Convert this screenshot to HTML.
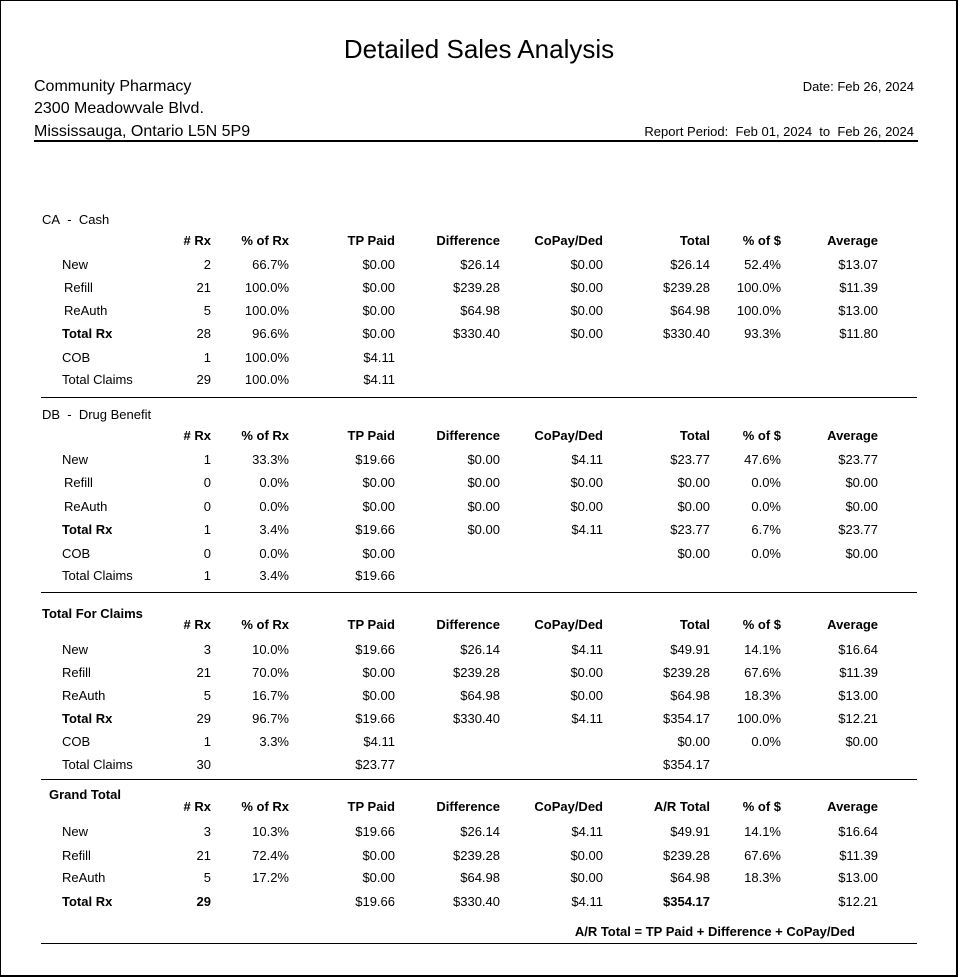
<!DOCTYPE html>
<html><head><meta charset="utf-8"><style>
*{margin:0;padding:0;box-sizing:border-box}
body{width:962px;height:977px;background:#fff;font-family:"Liberation Sans",Arial,sans-serif;color:#000;position:relative;overflow:hidden}
.frame{position:absolute;left:0;top:0;width:958px;height:977px;border:1px solid #000;border-width:1px 2px 2px 1px}
.t{position:absolute;white-space:nowrap;font-size:13px;line-height:16px;margin-top:1px}
.b{font-weight:bold}
.l{position:absolute;left:41px;width:876px;height:1px;background:#000}
.c1{right:751px}.c2{right:673px}.c3{right:567px}.c4{right:462px}.c5{right:359px}.c6{right:252px}.c7{right:181px}.c8{right:84px}
</style></head><body>
<div class="frame"></div>
<div class="t" style="left:0;width:958px;text-align:center;top:32px;font-size:26px;line-height:32px">Detailed Sales Analysis</div>
<div class="t" style="left:34px;top:77px;font-size:16px;line-height:18px">Community Pharmacy</div>
<div class="t" style="left:34px;top:99px;font-size:16px;line-height:18px">2300 Meadowvale Blvd.</div>
<div class="t" style="left:34px;top:122px;font-size:16px;line-height:18px">Mississauga, Ontario L5N 5P9</div>
<div class="t" style="right:48px;top:78px">Date: Feb 26, 2024</div>
<div class="t" style="right:48px;top:123px">Report Period:&nbsp; Feb 01, 2024&nbsp; to&nbsp; Feb 26, 2024</div>
<div style="position:absolute;left:34px;top:140px;width:884px;height:2px;background:#000"></div>

<!-- CA -->
<div class="t" style="left:42px;top:211px">CA&nbsp; -&nbsp; Cash</div>
<div class="t b c1" style="top:232px"># Rx</div><div class="t b c2" style="top:232px">% of Rx</div><div class="t b c3" style="top:232px">TP Paid</div><div class="t b c4" style="top:232px">Difference</div><div class="t b c5" style="top:232px">CoPay/Ded</div><div class="t b c6" style="top:232px">Total</div><div class="t b c7" style="top:232px">% of $</div><div class="t b c8" style="top:232px">Average</div>
<div class="t" style="left:62px;top:256px">New</div><div class="t c1" style="top:256px">2</div><div class="t c2" style="top:256px">66.7%</div><div class="t c3" style="top:256px">$0.00</div><div class="t c4" style="top:256px">$26.14</div><div class="t c5" style="top:256px">$0.00</div><div class="t c6" style="top:256px">$26.14</div><div class="t c7" style="top:256px">52.4%</div><div class="t c8" style="top:256px">$13.07</div>
<div class="t" style="left:64px;top:279px">Refill</div><div class="t c1" style="top:279px">21</div><div class="t c2" style="top:279px">100.0%</div><div class="t c3" style="top:279px">$0.00</div><div class="t c4" style="top:279px">$239.28</div><div class="t c5" style="top:279px">$0.00</div><div class="t c6" style="top:279px">$239.28</div><div class="t c7" style="top:279px">100.0%</div><div class="t c8" style="top:279px">$11.39</div>
<div class="t" style="left:64px;top:302px">ReAuth</div><div class="t c1" style="top:302px">5</div><div class="t c2" style="top:302px">100.0%</div><div class="t c3" style="top:302px">$0.00</div><div class="t c4" style="top:302px">$64.98</div><div class="t c5" style="top:302px">$0.00</div><div class="t c6" style="top:302px">$64.98</div><div class="t c7" style="top:302px">100.0%</div><div class="t c8" style="top:302px">$13.00</div>
<div class="t b" style="left:62px;top:325px">Total Rx</div><div class="t c1" style="top:325px">28</div><div class="t c2" style="top:325px">96.6%</div><div class="t c3" style="top:325px">$0.00</div><div class="t c4" style="top:325px">$330.40</div><div class="t c5" style="top:325px">$0.00</div><div class="t c6" style="top:325px">$330.40</div><div class="t c7" style="top:325px">93.3%</div><div class="t c8" style="top:325px">$11.80</div>
<div class="t" style="left:62px;top:349px">COB</div><div class="t c1" style="top:349px">1</div><div class="t c2" style="top:349px">100.0%</div><div class="t c3" style="top:349px">$4.11</div>
<div class="t" style="left:62px;top:371px">Total Claims</div><div class="t c1" style="top:371px">29</div><div class="t c2" style="top:371px">100.0%</div><div class="t c3" style="top:371px">$4.11</div>
<div class="l" style="top:397px"></div>

<!-- DB -->
<div class="t" style="left:42px;top:406px">DB&nbsp; -&nbsp; Drug Benefit</div>
<div class="t b c1" style="top:427px"># Rx</div><div class="t b c2" style="top:427px">% of Rx</div><div class="t b c3" style="top:427px">TP Paid</div><div class="t b c4" style="top:427px">Difference</div><div class="t b c5" style="top:427px">CoPay/Ded</div><div class="t b c6" style="top:427px">Total</div><div class="t b c7" style="top:427px">% of $</div><div class="t b c8" style="top:427px">Average</div>
<div class="t" style="left:62px;top:451px">New</div><div class="t c1" style="top:451px">1</div><div class="t c2" style="top:451px">33.3%</div><div class="t c3" style="top:451px">$19.66</div><div class="t c4" style="top:451px">$0.00</div><div class="t c5" style="top:451px">$4.11</div><div class="t c6" style="top:451px">$23.77</div><div class="t c7" style="top:451px">47.6%</div><div class="t c8" style="top:451px">$23.77</div>
<div class="t" style="left:64px;top:474px">Refill</div><div class="t c1" style="top:474px">0</div><div class="t c2" style="top:474px">0.0%</div><div class="t c3" style="top:474px">$0.00</div><div class="t c4" style="top:474px">$0.00</div><div class="t c5" style="top:474px">$0.00</div><div class="t c6" style="top:474px">$0.00</div><div class="t c7" style="top:474px">0.0%</div><div class="t c8" style="top:474px">$0.00</div>
<div class="t" style="left:64px;top:498px">ReAuth</div><div class="t c1" style="top:498px">0</div><div class="t c2" style="top:498px">0.0%</div><div class="t c3" style="top:498px">$0.00</div><div class="t c4" style="top:498px">$0.00</div><div class="t c5" style="top:498px">$0.00</div><div class="t c6" style="top:498px">$0.00</div><div class="t c7" style="top:498px">0.0%</div><div class="t c8" style="top:498px">$0.00</div>
<div class="t b" style="left:62px;top:521px">Total Rx</div><div class="t c1" style="top:521px">1</div><div class="t c2" style="top:521px">3.4%</div><div class="t c3" style="top:521px">$19.66</div><div class="t c4" style="top:521px">$0.00</div><div class="t c5" style="top:521px">$4.11</div><div class="t c6" style="top:521px">$23.77</div><div class="t c7" style="top:521px">6.7%</div><div class="t c8" style="top:521px">$23.77</div>
<div class="t" style="left:62px;top:545px">COB</div><div class="t c1" style="top:545px">0</div><div class="t c2" style="top:545px">0.0%</div><div class="t c3" style="top:545px">$0.00</div><div class="t c6" style="top:545px">$0.00</div><div class="t c7" style="top:545px">0.0%</div><div class="t c8" style="top:545px">$0.00</div>
<div class="t" style="left:62px;top:567px">Total Claims</div><div class="t c1" style="top:567px">1</div><div class="t c2" style="top:567px">3.4%</div><div class="t c3" style="top:567px">$19.66</div>
<div class="l" style="top:592px"></div>

<!-- Total for claims -->
<div class="t b" style="left:42px;top:605px">Total For Claims</div>
<div class="t b c1" style="top:616px"># Rx</div><div class="t b c2" style="top:616px">% of Rx</div><div class="t b c3" style="top:616px">TP Paid</div><div class="t b c4" style="top:616px">Difference</div><div class="t b c5" style="top:616px">CoPay/Ded</div><div class="t b c6" style="top:616px">Total</div><div class="t b c7" style="top:616px">% of $</div><div class="t b c8" style="top:616px">Average</div>
<div class="t" style="left:62px;top:641px">New</div><div class="t c1" style="top:641px">3</div><div class="t c2" style="top:641px">10.0%</div><div class="t c3" style="top:641px">$19.66</div><div class="t c4" style="top:641px">$26.14</div><div class="t c5" style="top:641px">$4.11</div><div class="t c6" style="top:641px">$49.91</div><div class="t c7" style="top:641px">14.1%</div><div class="t c8" style="top:641px">$16.64</div>
<div class="t" style="left:62px;top:664px">Refill</div><div class="t c1" style="top:664px">21</div><div class="t c2" style="top:664px">70.0%</div><div class="t c3" style="top:664px">$0.00</div><div class="t c4" style="top:664px">$239.28</div><div class="t c5" style="top:664px">$0.00</div><div class="t c6" style="top:664px">$239.28</div><div class="t c7" style="top:664px">67.6%</div><div class="t c8" style="top:664px">$11.39</div>
<div class="t" style="left:62px;top:687px">ReAuth</div><div class="t c1" style="top:687px">5</div><div class="t c2" style="top:687px">16.7%</div><div class="t c3" style="top:687px">$0.00</div><div class="t c4" style="top:687px">$64.98</div><div class="t c5" style="top:687px">$0.00</div><div class="t c6" style="top:687px">$64.98</div><div class="t c7" style="top:687px">18.3%</div><div class="t c8" style="top:687px">$13.00</div>
<div class="t b" style="left:62px;top:710px">Total Rx</div><div class="t c1" style="top:710px">29</div><div class="t c2" style="top:710px">96.7%</div><div class="t c3" style="top:710px">$19.66</div><div class="t c4" style="top:710px">$330.40</div><div class="t c5" style="top:710px">$4.11</div><div class="t c6" style="top:710px">$354.17</div><div class="t c7" style="top:710px">100.0%</div><div class="t c8" style="top:710px">$12.21</div>
<div class="t" style="left:62px;top:733px">COB</div><div class="t c1" style="top:733px">1</div><div class="t c2" style="top:733px">3.3%</div><div class="t c3" style="top:733px">$4.11</div><div class="t c6" style="top:733px">$0.00</div><div class="t c7" style="top:733px">0.0%</div><div class="t c8" style="top:733px">$0.00</div>
<div class="t" style="left:62px;top:756px">Total Claims</div><div class="t c1" style="top:756px">30</div><div class="t c3" style="top:756px">$23.77</div><div class="t c6" style="top:756px">$354.17</div>
<div class="l" style="top:779px"></div>

<!-- Grand -->
<div class="t b" style="left:49px;top:786px">Grand Total</div>
<div class="t b c1" style="top:798px"># Rx</div><div class="t b c2" style="top:798px">% of Rx</div><div class="t b c3" style="top:798px">TP Paid</div><div class="t b c4" style="top:798px">Difference</div><div class="t b c5" style="top:798px">CoPay/Ded</div><div class="t b c6" style="top:798px">A/R Total</div><div class="t b c7" style="top:798px">% of $</div><div class="t b c8" style="top:798px">Average</div>
<div class="t" style="left:62px;top:823px">New</div><div class="t c1" style="top:823px">3</div><div class="t c2" style="top:823px">10.3%</div><div class="t c3" style="top:823px">$19.66</div><div class="t c4" style="top:823px">$26.14</div><div class="t c5" style="top:823px">$4.11</div><div class="t c6" style="top:823px">$49.91</div><div class="t c7" style="top:823px">14.1%</div><div class="t c8" style="top:823px">$16.64</div>
<div class="t" style="left:62px;top:847px">Refill</div><div class="t c1" style="top:847px">21</div><div class="t c2" style="top:847px">72.4%</div><div class="t c3" style="top:847px">$0.00</div><div class="t c4" style="top:847px">$239.28</div><div class="t c5" style="top:847px">$0.00</div><div class="t c6" style="top:847px">$239.28</div><div class="t c7" style="top:847px">67.6%</div><div class="t c8" style="top:847px">$11.39</div>
<div class="t" style="left:62px;top:869px">ReAuth</div><div class="t c1" style="top:869px">5</div><div class="t c2" style="top:869px">17.2%</div><div class="t c3" style="top:869px">$0.00</div><div class="t c4" style="top:869px">$64.98</div><div class="t c5" style="top:869px">$0.00</div><div class="t c6" style="top:869px">$64.98</div><div class="t c7" style="top:869px">18.3%</div><div class="t c8" style="top:869px">$13.00</div>
<div class="t b" style="left:62px;top:893px">Total Rx</div><div class="t b c1" style="top:893px">29</div><div class="t c3" style="top:893px">$19.66</div><div class="t c4" style="top:893px">$330.40</div><div class="t c5" style="top:893px">$4.11</div><div class="t b c6" style="top:893px">$354.17</div><div class="t c8" style="top:893px">$12.21</div>
<div class="t b" style="right:107px;top:923px">A/R Total = TP Paid + Difference + CoPay/Ded</div>
<div class="l" style="top:943px"></div>
</body></html>
